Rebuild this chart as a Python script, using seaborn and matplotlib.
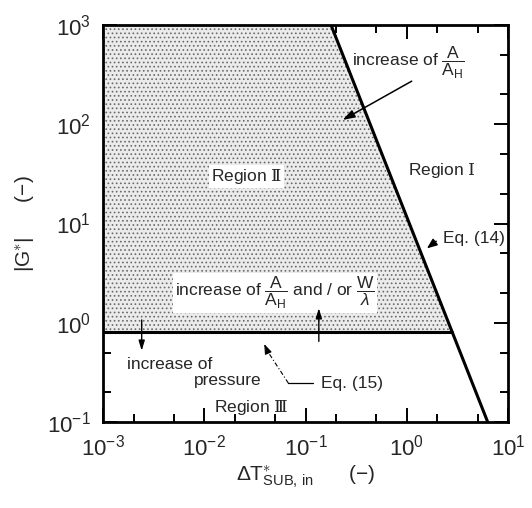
import numpy as np
import pandas as pd
import matplotlib
matplotlib.use("Agg")
import matplotlib.pyplot as plt
from matplotlib.ticker import LogLocator, NullFormatter
import seaborn as sns

# Boundary Eq. (14): steep line through two end points (dT*, |G*|)
eq14_dT = [0.178, 6.3]
eq14_G = [1000.0, 0.1]
# Boundary Eq. (15): constant |G*|
eq15_G = 0.8

x_limits = [1e-3, 1e1]
y_limits = [1e-1, 1e3]

sns.set_theme(style="ticks")
plt.rcParams["font.family"] = ["Liberation Sans", "DejaVu Sans"]
plt.rcParams["mathtext.fontset"] = "custom"
plt.rcParams["mathtext.rm"] = "Liberation Sans"
plt.rcParams["mathtext.it"] = "Liberation Sans:italic"
plt.rcParams["mathtext.bf"] = "Liberation Sans:bold"
plt.rcParams["mathtext.sf"] = "DejaVu Serif"
plt.rcParams["hatch.linewidth"] = 0.7

fig = plt.figure(figsize=(5.32, 5.08), dpi=100)
ax = fig.add_axes([0.194, 0.169, 0.761, 0.782])
ax.set_xscale("log")
ax.set_yscale("log")
ax.set_xlim(x_limits)
ax.set_ylim(y_limits)

# Eq. (14) in log-log form
lx = np.log10(eq14_dT)
ly = np.log10(eq14_G)
slope = (ly[1] - ly[0]) / (lx[1] - lx[0])


def eq14_x(g):
    return 10 ** (lx[0] + (np.log10(g) - ly[0]) / slope)


x_cross = eq14_x(eq15_G)

# Region II: stippled area above Eq. (15) and left of Eq. (14)
poly_x = [x_limits[0], x_cross, eq14_x(y_limits[1]), x_limits[0]]
poly_y = [eq15_G, eq15_G, y_limits[1], y_limits[1]]
ax.fill(poly_x, poly_y, facecolor="#ebebeb", edgecolor="#6a6a6a",
        hatch="....", linewidth=0, zorder=1)

eq14 = pd.DataFrame({"dT": eq14_dT, "G": eq14_G})
eq15 = pd.DataFrame({"dT": [x_limits[0], x_cross], "G": [eq15_G, eq15_G]})
sns.lineplot(data=eq14, x="dT", y="G", ax=ax, color="black", lw=2.2, zorder=3)
sns.lineplot(data=eq15, x="dT", y="G", ax=ax, color="black", lw=2.2, zorder=3)

ax.set_xlim(x_limits)
ax.set_ylim(y_limits)

fs = 12.5
white = dict(facecolor="white", edgecolor="none", pad=1.5)

ax.text(0.026, 29.5, r"Region $\mathsf{Ⅱ}$", ha="center", va="center",
        fontsize=fs, bbox=white, zorder=4)
ax.text(2.2, 34, r"Region $\mathsf{I}$", ha="center", va="center",
        fontsize=fs, zorder=4)
ax.text(0.029, 0.14, r"Region $\mathsf{Ⅲ}$", ha="center", va="center",
        fontsize=fs, zorder=4)

# increase of A/A_H (top right)
ax.text(0.29, 415, r"increase of $\dfrac{\mathrm{A}}{\mathrm{A_H}}$",
        ha="left", va="center", fontsize=fs, zorder=4)
ax.annotate("", xy=(0.22, 107), xytext=(1.18, 280),
            arrowprops=dict(arrowstyle="-|>,head_length=0.6,head_width=0.2",
                            color="black", lw=1.1), zorder=4)

# Eq. (14)
ax.text(2.3, 7.1, "Eq. (14)", ha="left", va="center", fontsize=fs, zorder=4)
ax.annotate("", xy=(1.5, 5.4), xytext=(2.05, 6.9),
            arrowprops=dict(arrowstyle="-|>,head_length=0.5,head_width=0.2",
                            color="black", lw=1.1), zorder=4)

# increase of A/A_H and/or W/lambda
ax.text(0.05, 2.0,
        r"increase of $\dfrac{\mathrm{A}}{\mathrm{A_H}}$ and / or $\dfrac{\mathrm{W}}{\lambda}$",
        ha="center", va="center", fontsize=fs, bbox=white, zorder=4)
ax.annotate("", xy=(0.135, 1.5), xytext=(0.135, 0.61),
            arrowprops=dict(arrowstyle="-|>,head_length=0.5,head_width=0.15",
                            color="black", lw=1.0), zorder=4)

# increase of pressure
ax.annotate("", xy=(0.0024, 0.49), xytext=(0.0024, 1.14),
            arrowprops=dict(arrowstyle="-|>,head_length=0.5,head_width=0.15",
                            color="black", lw=1.0), zorder=4)
ax.text(0.0017, 0.385, "increase of", ha="left", va="center", fontsize=fs, zorder=4)
ax.text(0.0079, 0.265, "pressure", ha="left", va="center", fontsize=fs, zorder=4)

# Eq. (15) with leader
ax.text(0.142, 0.245, "Eq. (15)", ha="left", va="center", fontsize=fs, zorder=4)
ax.plot([0.0675, 0.119], [0.247, 0.247], color="black", lw=0.9, zorder=4)
ax.plot([0.0675, 0.0426], [0.247, 0.507], color="black", lw=0.8,
        linestyle=(0, (4, 2, 1, 2)), zorder=4)
ax.annotate("", xy=(0.038, 0.65), xytext=(0.0415, 0.53),
            arrowprops=dict(arrowstyle="-|>,head_length=0.5,head_width=0.18",
                            color="black", lw=0.8), zorder=4)

# Axes styling
for s in ax.spines.values():
    s.set_linewidth(2.0)
    s.set_color("black")
ax.xaxis.set_major_locator(LogLocator(base=10, numticks=10))
ax.yaxis.set_major_locator(LogLocator(base=10, numticks=10))
ax.xaxis.set_minor_locator(LogLocator(base=10, subs=(2, 5), numticks=10))
ax.yaxis.set_minor_locator(LogLocator(base=10, subs=(2, 5), numticks=10))
ax.xaxis.set_minor_formatter(NullFormatter())
ax.yaxis.set_minor_formatter(NullFormatter())
ax.tick_params(which="both", direction="in", top=True, right=True,
               color="black", width=1.4)
ax.tick_params(which="major", length=10, labelsize=16, pad=9)
ax.tick_params(which="minor", length=6)

ax.set_xlabel(r"$\Delta\mathrm{T}^{\ast}_{\mathrm{SUB,\,in}}$      $(-)$",
              fontsize=15, labelpad=2)
ax.set_ylabel(r"$|\mathrm{G}^{\ast}|$      $(-)$", fontsize=15, labelpad=8)

fig.savefig("out.png", dpi=100)
